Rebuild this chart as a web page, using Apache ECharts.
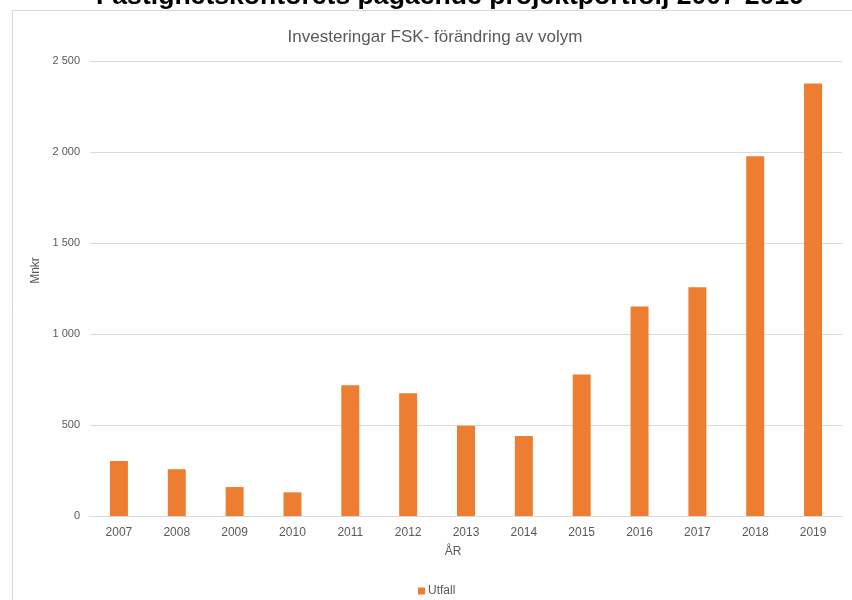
<!DOCTYPE html>
<html>
<head>
<meta charset="utf-8">
<script src="https://cdn.jsdelivr.net/npm/echarts@6/dist/echarts.min.js"></script>
<style>
  html, body { margin: 0; padding: 0; background: #fff; }
  #chart { width: 852px; height: 600px; }
</style>
</head>
<body>
<div id="chart"></div>
<script>
// data
const years = ['2007', '2008', '2009', '2010', '2011', '2012', '2013', '2014', '2015', '2016', '2017', '2018', '2019'];
const utfall = [302, 257, 159, 130, 718, 674, 496, 439, 778, 1151, 1257, 1976, 2377];
const yTicks = [0, 500, 1000, 1500, 2000, 2500];

const grey = '#595959';
const font = '"Liberation Sans Narrow", "Liberation Sans", sans-serif';

// 2500 -> "2 500"
function spaced(v) {
  return String(v).replace(/\B(?=(\d{3})+(?!\d))/g, ' ');
}

const chart = echarts.init(document.getElementById('chart'));
chart.setOption({
  animation: false,
  textStyle: { fontFamily: font },
  graphic: [
    {
      type: 'rect',
      shape: { x: 12.5, y: 10.5, width: 900, height: 700 },
      style: { fill: 'none', stroke: '#d9d9d9', lineWidth: 1 },
      z: -1
    },
    {
      // page heading, cut off at the top of the picture
      type: 'text',
      x: 450,
      y: -3,
      style: {
        text: 'Fastighetskontorets pågående projektportfölj 2007-2019',
        font: 'bold 26.6px "Liberation Sans", Arial, sans-serif',
        fill: '#000',
        textAlign: 'center',
        textVerticalAlign: 'middle'
      }
    }
  ],
  title: {
    text: 'Investeringar FSK- förändring av volym',
    left: 430,
    textAlign: 'center',
    top: 24,
    textStyle: { color: grey, fontSize: 17, fontWeight: 'normal', fontFamily: font }
  },
  legend: {
    top: 580,
    left: 413,
    icon: 'rect',
    itemWidth: 7,
    itemHeight: 7,
    itemGap: 4,
    textStyle: { color: grey, fontSize: 12, fontFamily: font, padding: [0, 0, 0, -2] },
    data: ['Utfall']
  },
  grid: { left: 90, right: 10, top: 61, bottom: 84 },
  xAxis: {
    type: 'category',
    data: years,
    name: 'ÅR',
    nameLocation: 'middle',
    nameGap: 30,
    nameTextStyle: { color: grey, fontSize: 12, fontFamily: font, padding: [0, 26, 0, 0] },
    axisLine: { lineStyle: { color: '#d9d9d9', width: 1 } },
    axisTick: { show: false },
    axisLabel: { color: grey, fontSize: 12, margin: 11, fontFamily: font }
  },
  yAxis: {
    type: 'value',
    min: yTicks[0],
    max: yTicks[yTicks.length - 1],
    interval: yTicks[1] - yTicks[0],
    name: 'Mnkr',
    nameLocation: 'middle',
    nameGap: 41,
    nameTextStyle: { color: grey, fontSize: 12, fontFamily: font, padding: [0, 0, 0, 36] },
    axisLine: { show: false },
    axisTick: { show: false },
    axisLabel: { color: grey, fontSize: 11, margin: 10, fontFamily: font, formatter: spaced },
    splitLine: { lineStyle: { color: '#d9d9d9', width: 1 } }
  },
  series: [
    {
      name: 'Utfall',
      type: 'bar',
      data: utfall,
      barWidth: 18,
      itemStyle: { color: '#ED7D31' }
    }
  ]
});
</script>
</body>
</html>
